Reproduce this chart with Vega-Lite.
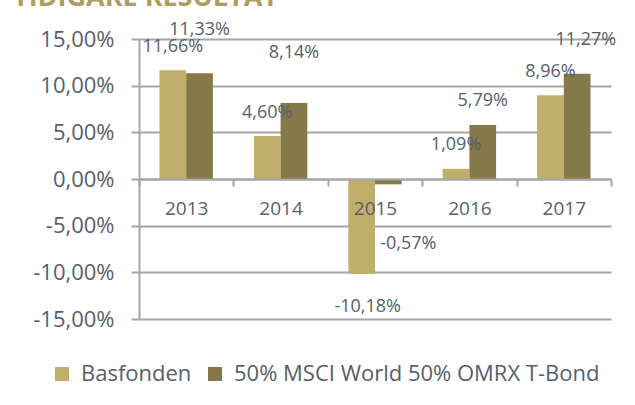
{
  "$schema": "https://vega.github.io/schema/vega-lite/v6.json",
  "width": 472,
  "height": 280,
  "autosize": {"type": "none"},
  "padding": {"left": 139, "top": 39, "right": 24, "bottom": 86},
  "background": "white",
  "title": {
    "text": "TIDIGARE RESULTAT",
    "anchor": "start",
    "frame": "group",
    "color": "#ad9d5f",
    "font": "Open Sans",
    "fontSize": 27,
    "fontWeight": "bold",
    "baseline": "alphabetic",
    "offset": 0,
    "dx": -126,
    "dy": 12
  },
  "data": {
    "values": [
      {"year": "2013", "series": "Basfonden", "value": 0.1166},
      {"year": "2013", "series": "50% MSCI World 50% OMRX T-Bond", "value": 0.1133},
      {"year": "2014", "series": "Basfonden", "value": 0.046},
      {"year": "2014", "series": "50% MSCI World 50% OMRX T-Bond", "value": 0.0814},
      {"year": "2015", "series": "Basfonden", "value": -0.1018},
      {"year": "2015", "series": "50% MSCI World 50% OMRX T-Bond", "value": -0.0057},
      {"year": "2016", "series": "Basfonden", "value": 0.0109},
      {"year": "2016", "series": "50% MSCI World 50% OMRX T-Bond", "value": 0.0579},
      {"year": "2017", "series": "Basfonden", "value": 0.0896},
      {"year": "2017", "series": "50% MSCI World 50% OMRX T-Bond", "value": 0.1127}
    ]
  },
  "encoding": {
    "x": {
      "field": "year",
      "type": "nominal",
      "scale": {"paddingInner": 0, "paddingOuter": 0},
      "axis": {
        "orient": "bottom",
        "offset": -140,
        "zindex": 1,
        "title": null,
        "tickBand": "extent",
        "grid": false,
        "domainColor": "#a6a6a6",
        "domainWidth": 2,
        "tickColor": "#a6a6a6",
        "tickWidth": 2,
        "tickSize": 7,
        "labelAngle": 0,
        "labelFont": "Open Sans",
        "labelFontSize": 19,
        "labelColor": "#56606b",
        "labelPadding": 13
      }
    },
    "xOffset": {
      "field": "series",
      "type": "nominal",
      "sort": ["Basfonden", "50% MSCI World 50% OMRX T-Bond"],
      "scale": {"paddingInner": 0, "paddingOuter": 0.768}
    },
    "y": {
      "field": "value",
      "type": "quantitative",
      "scale": {"domain": [-0.15, 0.15], "nice": false},
      "axis": {
        "values": [-0.15, -0.1, -0.05, 0, 0.05, 0.1, 0.15],
        "format": ".2%",
        "title": null,
        "grid": true,
        "gridColor": "#a6a6a6",
        "gridWidth": 2,
        "domainColor": "#a6a6a6",
        "domainWidth": 2,
        "tickColor": "#a6a6a6",
        "tickWidth": 2,
        "tickSize": 8,
        "labelPadding": 17,
        "labelFont": "Open Sans",
        "labelFontSize": 22,
        "labelColor": "#56606b"
      }
    }
  },
  "layer": [
    {
      "mark": {"type": "bar"},
      "encoding": {
        "color": {
          "field": "series",
          "type": "nominal",
          "scale": {
            "domain": ["Basfonden", "50% MSCI World 50% OMRX T-Bond"],
            "range": ["#c0ae6c", "#857849"]
          },
          "legend": {
            "orient": "none",
            "legendX": -88,
            "legendY": 324,
            "padding": 0,
            "direction": "horizontal",
            "title": null,
            "symbolType": "square",
            "symbolSize": 196,
            "symbolStrokeWidth": 0,
            "labelFont": "Open Sans",
            "labelFontSize": 22,
            "labelColor": "#56606b",
            "labelLimit": 0,
            "labelOffset": 8,
            "columnPadding": 12
          }
        }
      }
    },
    {
      "transform": [{"filter": "(datum.series == 'Basfonden' && datum.value > 0) || (datum.series != 'Basfonden' && datum.year == '2016')"}],
      "mark": {"type": "text", "font": "Open Sans", "fontSize": 18, "color": "#56606b", "baseline": "middle", "dy": -23.5},
      "encoding": {"text": {"field": "value", "type": "quantitative", "format": ".2%"}}
    },
    {
      "transform": [{"filter": "datum.series == 'Basfonden' && datum.value < 0"}],
      "mark": {"type": "text", "font": "Open Sans", "fontSize": 18, "color": "#56606b", "baseline": "middle", "dy": 33, "dx": 6},
      "encoding": {"text": {"field": "value", "type": "quantitative", "format": ".2%"}}
    },
    {
      "transform": [{"filter": "datum.series != 'Basfonden' && datum.year == '2013'"}],
      "mark": {"type": "text", "font": "Open Sans", "fontSize": 18, "color": "#56606b", "baseline": "middle", "dy": -43.6},
      "encoding": {"text": {"field": "value", "type": "quantitative", "format": ".2%"}}
    },
    {
      "transform": [{"filter": "datum.series != 'Basfonden' && datum.year == '2014'"}],
      "mark": {"type": "text", "font": "Open Sans", "fontSize": 18, "color": "#56606b", "baseline": "middle", "dy": -50},
      "encoding": {"text": {"field": "value", "type": "quantitative", "format": ".2%"}}
    },
    {
      "transform": [{"filter": "datum.series != 'Basfonden' && datum.year == '2015'"}],
      "mark": {"type": "text", "font": "Open Sans", "fontSize": 18, "color": "#56606b", "baseline": "middle", "dy": 59.4, "dx": 20},
      "encoding": {"text": {"field": "value", "type": "quantitative", "format": ".2%"}}
    },
    {
      "transform": [{"filter": "datum.series != 'Basfonden' && datum.year == '2017'"}],
      "mark": {"type": "text", "font": "Open Sans", "fontSize": 18, "color": "#56606b", "baseline": "middle", "dy": -34, "dx": 8.6},
      "encoding": {"text": {"field": "value", "type": "quantitative", "format": ".2%"}}
    }
  ],
  "config": {
    "view": {"stroke": null},
    "locale": {
      "number": {"decimal": ",", "thousands": " ", "grouping": [3], "currency": ["", " kr"], "minus": "-"}
    }
  }
}
